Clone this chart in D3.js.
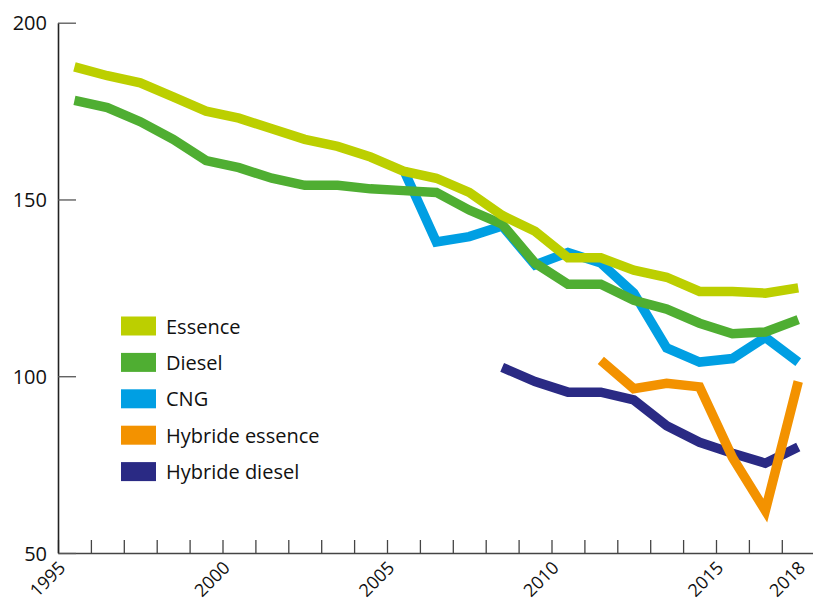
<!DOCTYPE html>
<html>
<head>
<meta charset="utf-8">
<script src="https://cdn.jsdelivr.net/npm/d3@7"></script>
<style>
  html, body { margin: 0; padding: 0; background: #fff; }
  svg { display: block; }
  text { font-family: "Open Sans", "DejaVu Sans", sans-serif; }
</style>
</head>
<body>
<svg id="chart" width="813" height="602"></svg>
<script>
// ---- data ----
const years = [1995,1996,1997,1998,1999,2000,2001,2002,2003,2004,2005,2006,2007,2008,2009,2010,2011,2012,2013,2014,2015,2016,2017];
const essence = [187.5,185,183,179,175,173,170,167,165,162,158,156,152,145.5,141,133.5,133.5,130,128,124,124,123.5,125];
const diesel  = [178,176,172,167,161,159,156,154,154,153,152.5,152,147,143,132,126,126,121.5,119,115,112,112.5,116];
const cng     = [null,null,null,null,null,null,null,null,null,null,158.5,138,139.5,142.5,131.5,135,132,123.5,108,104,105,111,104];
const hybEss  = [null,null,null,null,null,null,null,null,null,null,null,null,null,null,null,null,104.5,96.5,98,97,77,62,98.5];
const hybDie  = [null,null,null,null,null,null,null,null,null,null,null,null,null,102.5,98.5,95.5,95.5,93.3,86,81.3,78.2,75.4,80];
const seriesNames  = ["Essence","Diesel","CNG","Hybride essence","Hybride diesel"];
const seriesColors = ["#bccf00","#4fae32","#009fe3","#f39200","#2a2a84"];
const yTickValues = [50,100,150,200];
const xTickValues = [1995,1996,1997,1998,1999,2000,2001,2002,2003,2004,2005,2006,2007,2008,2009,2010,2011,2012,2013,2014,2015,2016,2017,2018];
const xLabelYears = [1995,2000,2005,2010,2015,2018];

// ---- chart ----
const svg = d3.select("#chart");
const x = d3.scaleLinear().domain([1995, 2018]).range([58, 814.7]);
const y = d3.scaleLinear().domain([50, 200]).range([553, 22.7]);

// x axis
const gx = svg.append("g").attr("transform", "translate(0,553)")
  .call(d3.axisBottom(x).tickValues(xTickValues).tickSizeInner(-13).tickSizeOuter(0)
    .tickFormat(d => xLabelYears.includes(d) ? String(d) : ""));
gx.select(".domain").attr("stroke", "#444").attr("stroke-width", 1.6);
gx.selectAll(".tick line").attr("stroke", "#444").attr("stroke-width", 1.3);
gx.selectAll(".tick text")
  .attr("x", 0).attr("y", 0).attr("dy", null)
  .attr("transform", d => d === 2018 ? "translate(-9,16) rotate(-45)" : "translate(8,16) rotate(-45)")
  .style("text-anchor", "end")
  .attr("fill", "#111")
  .style("font-size", "18px");

// y axis
const gy = svg.append("g").attr("transform", "translate(58,0)")
  .call(d3.axisLeft(y).tickValues(yTickValues).tickSizeInner(-18).tickSizeOuter(0).tickPadding(11));
gy.select(".domain").attr("stroke", "#222").attr("stroke-width", 1.6);
gy.selectAll(".tick line").attr("stroke", "#555").attr("stroke-width", 1.3);
gy.selectAll(".tick text").attr("fill", "#111").style("font-size", "20px").attr("dy", "0.35em");

// lines
const allSeries = [essence, diesel, cng, hybEss, hybDie];
const drawOrder = [4, 2, 1, 0, 3];
const line = d3.line()
  .defined(d => d.v !== null)
  .x(d => x(d.year + 0.5))
  .y(d => y(d.v));
drawOrder.forEach(i => {
  const pts = years.map((yr, k) => ({year: yr, v: allSeries[i][k]}));
  svg.append("path")
    .datum(pts)
    .attr("d", line)
    .attr("fill", "none")
    .attr("stroke", seriesColors[i])
    .attr("stroke-width", 9.5)
    .attr("stroke-linejoin", "miter")
    .attr("stroke-miterlimit", 3)
    .attr("stroke-linecap", "butt");
});

// legend
const legend = svg.append("g").attr("transform", "translate(121,326)");
seriesNames.forEach((name, i) => {
  const g = legend.append("g").attr("transform", `translate(0,${i * 36.4})`);
  g.append("rect").attr("x", 0).attr("y", -9.5).attr("width", 35).attr("height", 19)
    .attr("fill", seriesColors[i]);
  g.append("text").attr("x", 45).attr("y", 7.5).text(name)
    .attr("fill", "#111").style("font-size", "20px");
});
</script>
</body>
</html>
